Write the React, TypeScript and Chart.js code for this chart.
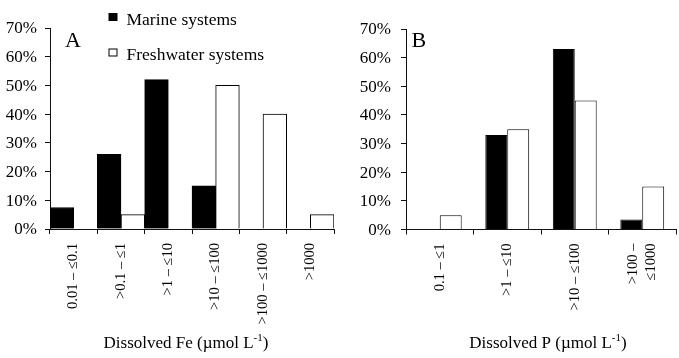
import React, { useEffect, useRef } from 'react';
import { Chart, registerables } from 'chart.js';

Chart.register(...registerables);

// ---- Data ----
const feCategories: (string | string[])[] = ['0.01 – ≤0.1', '>0.1 – ≤1', '>1 – ≤10', '>10 – ≤100', '>100 – ≤1000', '>1000'];
const feMarine = [7.5, 26, 52, 15, 0, 0];
const feFresh = [0, 5, 0, 50, 40, 5];

const pCategories: (string | string[])[] = ['0.1 – ≤1', '>1 – ≤10', '>10 – ≤100', ['>100 –', '≤1000']];
const pMarine = [0, 33, 63, 3.5];
const pFresh = [5, 35, 45, 15];

const yTicks = [0, 10, 20, 30, 40, 50, 60, 70];
const seriesNames = ['Marine systems', 'Freshwater systems'];

const SERIF = '"Liberation Serif", "Times New Roman", serif';
const H = 358;

type PanelCfg = {
  categories: (string | string[])[];
  marine: number[];
  fresh: number[];
  letter: string;
  letterX: number;
  titleMain: string;
  titleShift: number;
  showLegend: boolean;
  yWidth: number;
  top: number;
  bottom: number;
  right: number;
  tickPad: number;
  catPct: number;
};

function decorPlugin(cfg: PanelCfg) {
  return {
    id: 'decor',
    afterDraw(chart: any) {
      const ctx = chart.ctx as CanvasRenderingContext2D;
      const xs = chart.scales.x;
      const area = chart.chartArea;
      ctx.save();
      ctx.fillStyle = '#000';
      // rotated category labels
      ctx.font = `14.5px ${SERIF}`;
      cfg.categories.forEach((lab, i) => {
        const lines = Array.isArray(lab) ? lab : [lab];
        const cx = xs.getPixelForValue(i);
        ctx.save();
        ctx.translate(cx, area.bottom + 14);
        ctx.rotate(-Math.PI / 2);
        ctx.textAlign = 'right';
        ctx.textBaseline = 'middle';
        lines.forEach((ln, j) => {
          ctx.fillText(ln, 0, (j - (lines.length - 1) / 2) * 18.5);
        });
        ctx.restore();
      });
      // axis title with superscript
      const main = `${cfg.titleMain} (µmol L`;
      const sup = '-1';
      const close = ')';
      ctx.textBaseline = 'alphabetic';
      ctx.textAlign = 'left';
      ctx.font = `17px ${SERIF}`;
      const wMain = ctx.measureText(main).width;
      const wClose = ctx.measureText(close).width;
      ctx.font = `11px ${SERIF}`;
      const wSup = ctx.measureText(sup).width;
      const total = wMain + wSup + wClose;
      const cx = (area.left + area.right) / 2 + cfg.titleShift;
      let tx = cx - total / 2;
      const base = 348;
      ctx.font = `17px ${SERIF}`;
      ctx.fillText(main, tx, base);
      tx += wMain;
      ctx.font = `11px ${SERIF}`;
      ctx.fillText(sup, tx, base - 7);
      tx += wSup;
      ctx.font = `17px ${SERIF}`;
      ctx.fillText(close, tx, base);
      // panel letter
      ctx.font = `22px ${SERIF}`;
      ctx.fillText(cfg.letter, cfg.letterX, 46.5);
      // legend
      if (cfg.showLegend) {
        ctx.font = `17.5px ${SERIF}`;
        ctx.fillStyle = '#000';
        ctx.fillRect(108.5, 13, 9, 8);
        ctx.fillText(seriesNames[0], 126.5, 25);
        ctx.fillStyle = '#fff';
        ctx.fillRect(108.5, 48.5, 9, 8);
        ctx.strokeStyle = '#000';
        ctx.lineWidth = 1;
        ctx.strokeRect(109, 49, 8, 7);
        ctx.fillStyle = '#000';
        ctx.fillText(seriesNames[1], 126.5, 60);
      }
      ctx.restore();
    },
  };
}

function buildChart(canvas: HTMLCanvasElement, cfg: PanelCfg) {
  return new Chart(canvas, {
    type: 'bar',
    data: {
      labels: cfg.categories as any,
      datasets: [
        {
          label: seriesNames[0],
          data: cfg.marine,
          backgroundColor: '#000',
          borderColor: '#000',
          borderWidth: 1,
          categoryPercentage: cfg.catPct,
          barPercentage: 1,
        },
        {
          label: seriesNames[1],
          data: cfg.fresh,
          backgroundColor: '#fff',
          borderColor: '#000',
          borderWidth: 1,
          categoryPercentage: cfg.catPct,
          barPercentage: 1,
        },
      ],
    },
    options: {
      animation: false,
      responsive: false,
      devicePixelRatio: 1,
      layout: { padding: { top: cfg.top, right: cfg.right, left: 0, bottom: 0 } },
      plugins: { legend: { display: false }, tooltip: { enabled: false }, title: { display: false } },
      scales: {
        x: {
          offset: true,
          grid: { display: true, drawOnChartArea: false, drawTicks: true, tickLength: 5, offset: true, color: '#111' },
          border: { display: true, color: '#111', width: 1 },
          ticks: { display: false },
          afterFit: (s: any) => {
            s.height = H - cfg.bottom;
          },
        },
        y: {
          min: 0,
          max: 70,
          afterBuildTicks: (s: any) => {
            s.ticks = yTicks.map((v) => ({ value: v }));
          },
          grid: { display: true, drawOnChartArea: false, drawTicks: true, tickLength: 5, color: '#111' },
          border: { display: true, color: '#111', width: 1 },
          ticks: {
            color: '#000',
            padding: cfg.tickPad,
            labelOffset: 1,
            font: { family: SERIF, size: 17 },
            callback: (v: any) => `${v}%`,
          },
          afterFit: (s: any) => {
            s.width = cfg.yWidth;
          },
        },
      },
    },
    plugins: [decorPlugin(cfg)],
  });
}

const panelA: PanelCfg = {
  categories: feCategories,
  marine: feMarine,
  fresh: feFresh,
  letter: 'A',
  letterX: 65,
  titleMain: 'Dissolved Fe',
  titleShift: -6,
  showLegend: true,
  yWidth: 50,
  top: 28,
  bottom: 229,
  right: 6,
  tickPad: 8,
  catPct: 1,
};

const panelB: PanelCfg = {
  categories: pCategories,
  marine: pMarine,
  fresh: pFresh,
  letter: 'B',
  letterX: 71.5,
  titleMain: 'Dissolved P',
  titleShift: 7,
  showLegend: false,
  yWidth: 66,
  top: 29,
  bottom: 229.5,
  right: 3,
  tickPad: 10,
  catPct: 0.65,
};

function Panel({ cfg, left, width }: { cfg: PanelCfg; left: number; width: number }) {
  const ref = useRef<HTMLCanvasElement | null>(null);
  useEffect(() => {
    if (!ref.current) return;
    const chart = buildChart(ref.current, cfg);
    return () => chart.destroy();
  }, [cfg]);
  return (
    <canvas
      ref={ref}
      width={width}
      height={H}
      style={{ position: 'absolute', left, top: 0, width, height: H, display: 'block' }}
    />
  );
}

export default function App() {
  return (
    <div style={{ position: 'fixed', left: 0, top: 0, width: 679, height: H, background: '#fff', overflow: 'hidden' }}>
      <Panel cfg={panelA} left={0} width={340} />
      <Panel cfg={panelB} left={340} width={339} />
    </div>
  );
}
